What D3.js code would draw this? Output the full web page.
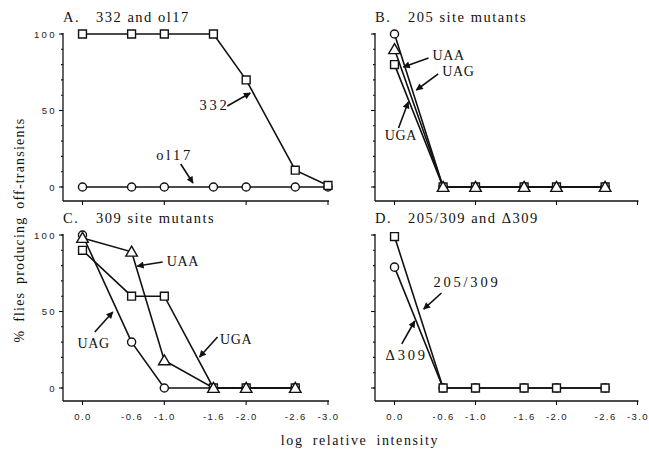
<!DOCTYPE html>
<html>
<head>
<meta charset="utf-8">
<script src="https://cdn.jsdelivr.net/npm/d3@7"></script>
<style>
  body { margin: 0; background: #fff; }
  svg { display: block; }
  .serif { font-family: "Liberation Serif", "DejaVu Serif", serif; fill: #111; }
  .sans { font-family: "Liberation Sans", Arial, sans-serif; fill: #222; }
</style>
</head>
<body>
<svg id="chart" width="649" height="456"></svg>
<script>
// log relative intensity at which each point was measured
const xValues = [0, -0.6, -1.0, -1.6, -2.0, -2.6, -3.0];
const xTickLabels = ['0.0', '-0.6', '-1.0', '-1.6', '-2.0', '-2.6', '-3.0'];
const xMajorTicks = [0, -1, -2, -3];
const yLabelTicks = [0, 50, 100];
const yMinorTicks = d3.range(0, 101, 10);

// % flies producing off-transients
const a332 = [100, 100, 100, 100, 70, 11, 1];
const aOl17 = [0, 0, 0, 0, 0, 0, 0];
const b205Circle = [100, 0, 0, 0, 0, 0];
const b205Square = [80, 0, 0, 0, 0, 0];
const b205Triangle = [90, 0, 0, 0, 0, 0];
const c309Circle = [100, 30, 0, 0, 0, 0];
const c309Square = [90, 60, 60, 0, 0, 0];
const c309Triangle = [98, 89, 18, 0, 0, 0];
const d205309 = [99, 0, 0, 0, 0, 0];
const dDelta309 = [79, 0, 0, 0, 0, 0];

const titleLetters = ['A.', 'B.', 'C.', 'D.'];
const titleTexts = ['332 and ol17', '205 site mutants', '309 site mutants', '205/309 and \u0394309'];

// annotations, in data units: [label, textX, textY, tailX, tailY, headX, headY, numeric]
const notesA = [['332', -1.43, 50.3, -1.77, 52.9, -2.05, 61.4, true],
                ['ol17', -0.9, 17.6, -1.2, 15, -1.35, 2.6, true]];
const notesB = [['UAA', -0.47, 83, -0.42, 84.3, -0.11, 78.4, false],
                ['UAG', -0.59, 72.5, -0.54, 73.9, -0.27, 63.4, false],
                ['UGA', 0.12, 30.7, -0.05, 38.6, -0.17, 55.6, false]];
const notesC = [['UAA', -1.03, 79.7, -0.98, 82.4, -0.67, 79.7, false],
                ['UAG', 0.06, 26.1, -0.15, 36.6, -0.37, 49.7, false],
                ['UGA', -1.68, 28.8, -1.65, 33.3, -1.43, 20.3, false]];
const notesD = [['205/309', -0.48, 66, -0.58, 62.1, -0.36, 51.6, true],
                ['\u0394309', 0.11, 18.3, -0.09, 28.8, -0.25, 43.8, true]];

const svg = d3.select('#chart');

svg.append('defs').append('marker')
    .attr('id', 'arrow')
    .attr('viewBox', '0 0 10 10')
    .attr('refX', 9)
    .attr('refY', 5)
    .attr('markerUnits', 'userSpaceOnUse')
    .attr('markerWidth', 8)
    .attr('markerHeight', 7)
    .attr('orient', 'auto')
    .append('path')
        .attr('d', 'M0,0 L10,5 L0,10 Z')
        .attr('fill', '#111');

const panels = [
    { x0: 63, span: 265, top: 34, zero: 187, axisY: 201, yLabels: true, xLabels: false, title: 0, notes: notesA,
      series: [[aOl17, 'circle'], [a332, 'square']] },
    { x0: 375, span: 262.5, top: 34, zero: 187, axisY: 201, yLabels: false, xLabels: false, title: 1, notes: notesB,
      series: [[b205Circle, 'circle'], [b205Square, 'square'], [b205Triangle, 'triangle']] },
    { x0: 63, span: 265, top: 235, zero: 388, axisY: 401, yLabels: true, xLabels: true, title: 2, notes: notesC,
      series: [[c309Circle, 'circle'], [c309Square, 'square'], [c309Triangle, 'triangle']] },
    { x0: 375, span: 262.5, top: 235, zero: 388, axisY: 401, yLabels: false, xLabels: true, title: 3, notes: notesD,
      series: [[dDelta309, 'circle'], [d205309, 'square']] }
];

const symbols = {
    circle: d3.symbol().type(d3.symbolCircle).size(52)(),
    square: d3.symbol().type(d3.symbolSquare).size(62)(),
    triangle: d3.symbol().type(d3.symbolTriangle).size(58)()
};

panels.forEach((p) => {
    const x = d3.scaleLinear().domain([0, -3]).range([p.x0 + 19.5, p.x0 + p.span]);
    const y = d3.scaleLinear().domain([0, 100]).range([p.zero, p.top]);
    const g = svg.append('g');

    // axes
    g.append('line')
        .attr('x1', p.x0).attr('x2', p.x0)
        .attr('y1', y(100) - 1).attr('y2', p.axisY)
        .attr('stroke', '#111').attr('stroke-width', 1.3);
    g.append('line')
        .attr('x1', p.x0).attr('x2', x(-3) + 1)
        .attr('y1', p.axisY).attr('y2', p.axisY)
        .attr('stroke', '#111').attr('stroke-width', 1.3);

    g.selectAll('.minor')
        .data(yMinorTicks)
        .enter()
            .append('line')
                .attr('x1', p.x0 - 2).attr('x2', p.x0)
                .attr('y1', (d) => y(d)).attr('y2', (d) => y(d))
                .attr('stroke', '#111').attr('stroke-width', 1.1);
    g.selectAll('.major')
        .data(yLabelTicks)
        .enter()
            .append('line')
                .attr('x1', p.x0 - 4).attr('x2', p.x0)
                .attr('y1', (d) => y(d)).attr('y2', (d) => y(d))
                .attr('stroke', '#111').attr('stroke-width', 1.1);
    g.selectAll('.xtick')
        .data(xMajorTicks)
        .enter()
            .append('line')
                .attr('x1', (d) => x(d)).attr('x2', (d) => x(d))
                .attr('y1', p.axisY).attr('y2', p.axisY + 4)
                .attr('stroke', '#111').attr('stroke-width', 1.1);

    if (p.yLabels) {
        g.selectAll('.ylab')
            .data(yLabelTicks)
            .enter()
                .append('text')
                    .attr('class', 'sans')
                    .attr('x', p.x0 - 6)
                    .attr('y', (d) => y(d) + 3.5)
                    .attr('text-anchor', 'end')
                    .attr('font-size', 9.5)
                    .attr('letter-spacing', 2.4)
                    .text((d) => d);
    }
    if (p.xLabels) {
        g.selectAll('.xlab')
            .data(xValues)
            .enter()
                .append('text')
                    .attr('class', 'sans')
                    .attr('x', (d) => x(d) + 0.5)
                    .attr('y', p.axisY + 19)
                    .attr('text-anchor', 'middle')
                    .attr('font-size', 9.5)
                    .attr('letter-spacing', 1.4)
                    .text((d, i) => xTickLabels[i]);
    }

    // title
    const t = g.append('text')
        .attr('class', 'serif')
        .attr('x', p.x0)
        .attr('y', p.top - 12)
        .attr('font-size', 14.5)
        .attr('letter-spacing', 1.5);
    t.append('tspan').text(titleLetters[p.title]);
    t.append('tspan').attr('x', p.x0 + 33).text(titleTexts[p.title]);

    // lines first, markers on top
    const line = d3.line()
        .x((d, i) => x(xValues[i]))
        .y((d) => y(d));
    p.series.forEach(([values]) => {
        g.append('path')
            .datum(values)
            .attr('d', line)
            .attr('fill', 'none')
            .attr('stroke', '#111')
            .attr('stroke-width', 1.6);
    });
    p.series.forEach(([values, shape]) => {
        g.selectAll(`.m-${shape}`)
            .data(values)
            .enter()
                .append('path')
                    .attr('d', symbols[shape])
                    .attr('transform', (d, i) => `translate(${x(xValues[i])}, ${y(d) + (shape === 'triangle' ? 1 : 0)})`)
                    .attr('fill', '#fff')
                    .attr('stroke', '#111')
                    .attr('stroke-width', 1.4);
    });

    // annotations
    p.notes.forEach(([label, tx, ty, ax, ay, hx, hy, numeric]) => {
        g.append('line')
            .attr('x1', x(ax)).attr('y1', y(ay))
            .attr('x2', x(hx)).attr('y2', y(hy))
            .attr('stroke', '#111')
            .attr('stroke-width', 1.6)
            .attr('marker-end', 'url(#arrow)');
        g.append('text')
            .attr('class', 'serif')
            .attr('x', x(tx))
            .attr('y', y(ty))
            .attr('font-size', numeric ? 14.5 : 14)
            .attr('letter-spacing', numeric ? 2.8 : 0.6)
            .text(label);
    });
});

// shared axis titles
svg.append('text')
    .attr('class', 'serif')
    .attr('transform', 'translate(24, 230) rotate(-90)')
    .attr('text-anchor', 'middle')
    .attr('font-size', 14)
    .attr('letter-spacing', 1.2)
    .attr('word-spacing', 3)
    .text('% flies producing off-transients');

svg.append('text')
    .attr('class', 'serif')
    .attr('x', 360)
    .attr('y', 445)
    .attr('text-anchor', 'middle')
    .attr('font-size', 14)
    .attr('letter-spacing', 1.6)
    .attr('word-spacing', 4)
    .text('log relative intensity');
</script>
</body>
</html>
